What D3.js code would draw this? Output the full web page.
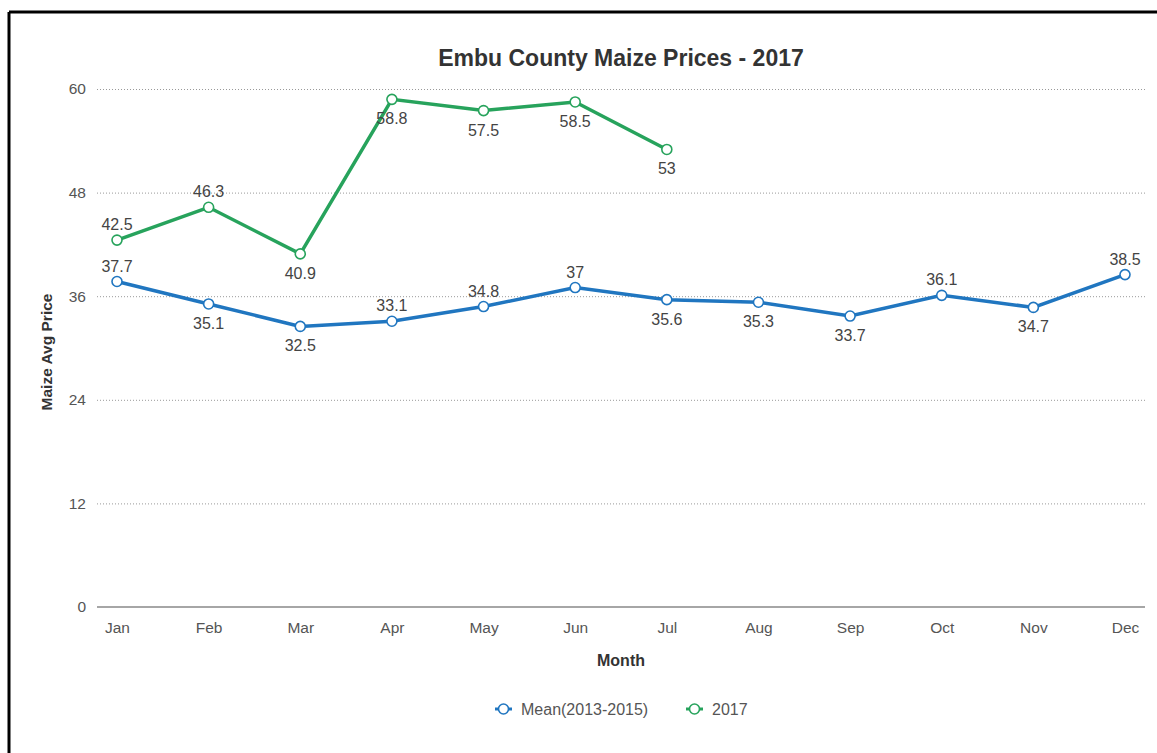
<!DOCTYPE html>
<html lang="en">
<head>
    <meta charset="UTF-8">
    <title>Embu County Maize Prices - 2017</title>
    <script src="https://d3js.org/d3.v7.min.js"></script>
    <style>
        body { margin: 0; background: #fff; }
        svg { display: block; font-family: "Liberation Sans", Arial, sans-serif; }
        .grid line { stroke: #999; stroke-dasharray: 1 2; }
        .grid path { display: none; }
        .axis text { font-size: 15.5px; fill: #555; }
        .axis path, .axis line { stroke: #888; }
        .lbl { font-size: 16px; fill: #444; }
    </style>
</head>
<body>
<svg width="1157" height="753"></svg>
<script>
    // data
    let months = ["Jan", "Feb", "Mar", "Apr", "May", "Jun", "Jul", "Aug", "Sep", "Oct", "Nov", "Dec"];
    let meanPrices = [37.7, 35.1, 32.5, 33.1, 34.8, 37, 35.6, 35.3, 33.7, 36.1, 34.7, 38.5];
    let prices2017 = [42.5, 46.3, 40.9, 58.8, 57.5, 58.5, 53];
    let yTicks = [0, 12, 24, 36, 48, 60];
    // label side: 1 = above the point, -1 = below
    let meanLabelSide = [1, -1, -1, 1, 1, 1, -1, -1, -1, 1, -1, 1];
    let label2017Side = [1, 1, -1, -1, -1, -1, -1];

    let series = [
        { name: "Mean(2013-2015)", values: meanPrices, side: meanLabelSide, color: "#2076c0" },
        { name: "2017", values: prices2017, side: label2017Side, color: "#27a35c" }
    ];

    let margin = { top: 89, right: 12, bottom: 146, left: 97 };

    let svgRoot = d3.select("svg");

    // frame: top and left border only
    svgRoot.append("line").attr("x1", 9).attr("x2", 1157).attr("y1", 12).attr("y2", 12)
        .attr("stroke", "#000").attr("stroke-width", 3);
    svgRoot.append("line").attr("x1", 9).attr("x2", 9).attr("y1", 12).attr("y2", 753)
        .attr("stroke", "#000").attr("stroke-width", 3);

    let svg = svgRoot.append("g")
        .attr("transform", `translate(${margin.left},${margin.top})`);

    let x = d3.scalePoint()
        .domain(months)
        .range([20, 1028]);

    let y = d3.scaleLinear()
        .domain([0, 60])
        .range([518, 0]);

    // gridlines
    svg.append("g")
        .attr("class", "grid")
        .call(d3.axisLeft(y).tickValues(yTicks.filter(d => d > 0)).tickSize(-1048).tickFormat(""));

    // y axis labels
    let gY = svg.append("g")
        .attr("class", "axis")
        .call(d3.axisLeft(y).tickValues(yTicks).tickSize(0).tickPadding(11));
    gY.select(".domain").remove();

    // x axis
    let gX = svg.append("g")
        .attr("class", "axis")
        .attr("transform", "translate(0,518)")
        .call(d3.axisBottom(x).tickSize(0).tickPadding(15));
    gX.select(".domain").attr("d", "M0,0H1048").attr("stroke", "#888").attr("stroke-width", 1.5);

    let line = d3.line()
        .x((d, i) => x(months[i]))
        .y(d => y(d));

    series.forEach(s => {
        let g = svg.append("g");
        g.append("path")
            .datum(s.values)
            .attr("d", line)
            .attr("fill", "none")
            .attr("stroke", s.color)
            .attr("stroke-width", 3.5);

        g.selectAll("circle")
            .data(s.values)
            .enter().append("circle")
            .attr("cx", (d, i) => x(months[i]))
            .attr("cy", d => y(d))
            .attr("r", 5)
            .attr("fill", "#fff")
            .attr("stroke", s.color)
            .attr("stroke-width", 1.6);

        g.selectAll("text")
            .data(s.values)
            .enter().append("text")
            .attr("class", "lbl")
            .attr("text-anchor", "middle")
            .attr("x", (d, i) => x(months[i]))
            .attr("y", (d, i) => y(d) + (s.side[i] > 0 ? -10 : 25))
            .text(d => d);
    });

    // title
    svgRoot.append("text")
        .attr("x", 621).attr("y", 66)
        .attr("text-anchor", "middle")
        .attr("font-size", "23px").attr("font-weight", "bold")
        .attr("fill", "#333")
        .text("Embu County Maize Prices - 2017");

    // axis titles
    svgRoot.append("text")
        .attr("x", 621).attr("y", 666)
        .attr("text-anchor", "middle")
        .attr("font-size", "16px").attr("font-weight", "bold")
        .attr("fill", "#333")
        .text("Month");

    svgRoot.append("text")
        .attr("transform", "translate(52,352) rotate(-90)")
        .attr("text-anchor", "middle")
        .attr("font-size", "15.5px").attr("font-weight", "bold")
        .attr("fill", "#333")
        .text("Maize Avg Price");

    // legend
    let legendX = [495, 686];
    let legend = svgRoot.append("g").attr("transform", "translate(0,709)");
    series.forEach((s, i) => {
        let lg = legend.append("g").attr("transform", `translate(${legendX[i]},0)`);
        lg.append("line").attr("x1", 0).attr("x2", 17).attr("stroke", s.color).attr("stroke-width", 3);
        lg.append("circle").attr("cx", 8.5).attr("r", 5)
            .attr("fill", "#fff").attr("stroke", s.color).attr("stroke-width", 1.6);
        lg.append("text").attr("x", 26).attr("y", 6)
            .attr("font-size", "16px").attr("fill", "#555")
            .text(s.name);
    });
</script>
</body>
</html>
